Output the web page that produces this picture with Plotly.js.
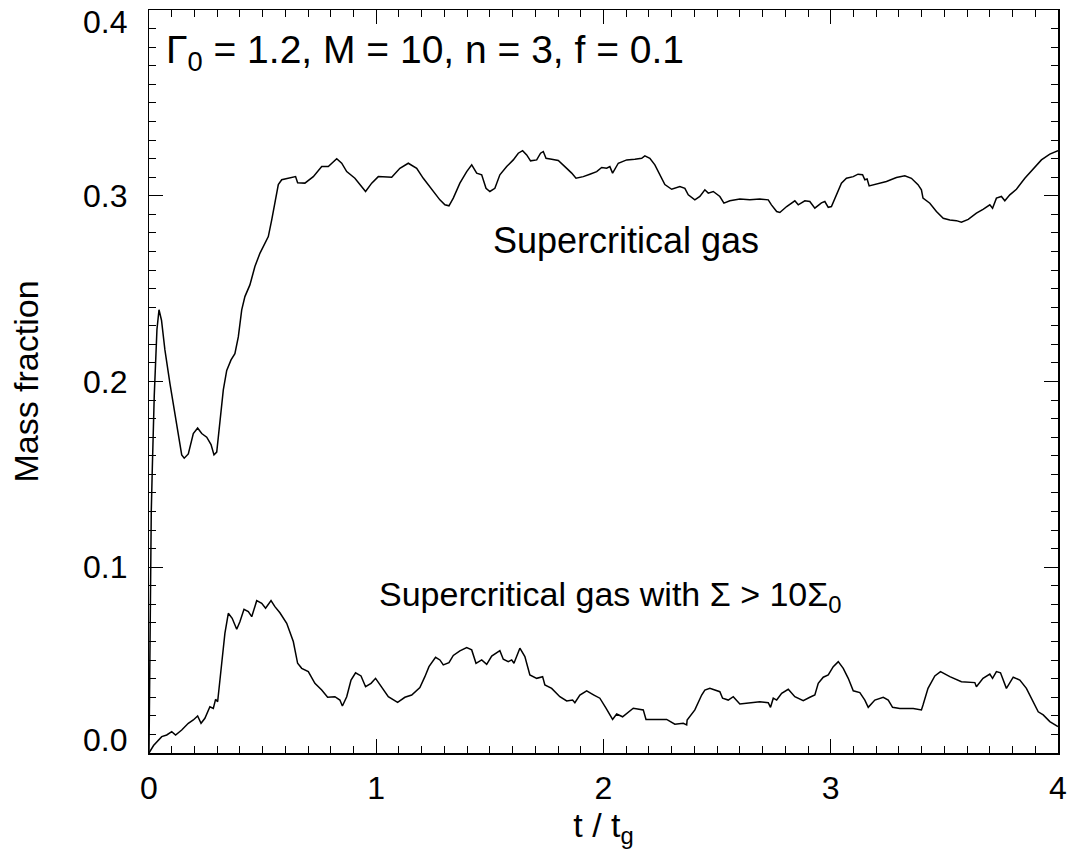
<!DOCTYPE html>
<html>
<head>
<meta charset="utf-8">
<script src="https://cdn.plot.ly/plotly-3.0.1.min.js"></script>
<style>html,body{margin:0;padding:0;background:#fff;}#chart{width:1076px;height:861px;}</style>
</head>
<body>
<div id="chart"></div>
<script>
const tUpper = [0, 0.005, 0.01, 0.0147, 0.023, 0.035, 0.044, 0.055, 0.070, 0.092,
0.114, 0.129, 0.144, 0.155, 0.173, 0.195, 0.214, 0.232, 0.254, 0.273,
0.286, 0.298, 0.312, 0.327, 0.342, 0.361, 0.378, 0.393, 0.408, 0.422,
0.444, 0.466, 0.488, 0.510, 0.525, 0.540, 0.554, 0.569, 0.584, 0.613,
0.645, 0.654, 0.686, 0.723, 0.760, 0.789, 0.826, 0.848, 0.870, 0.906,
0.953, 0.980, 1.009, 1.068, 1.104, 1.141, 1.178, 1.207, 1.244, 1.280,
1.302, 1.320, 1.339, 1.368, 1.398, 1.420, 1.442, 1.464, 1.483, 1.500,
1.522, 1.544, 1.574, 1.603, 1.625, 1.644, 1.662, 1.679, 1.706, 1.723,
1.735, 1.747, 1.772, 1.801, 1.830, 1.860, 1.879, 1.911, 1.940, 1.970,
1.992, 2.014, 2.028, 2.040, 2.065, 2.102, 2.138, 2.168, 2.182, 2.204,
2.226, 2.248, 2.270, 2.300, 2.336, 2.358, 2.373, 2.402, 2.424, 2.446,
2.461, 2.483, 2.512, 2.530, 2.556, 2.600, 2.644, 2.688, 2.725, 2.739,
2.762, 2.776, 2.806, 2.842, 2.857, 2.886, 2.908, 2.930, 2.959, 2.974,
2.989, 3.003, 3.025, 3.047, 3.069, 3.099, 3.120, 3.140, 3.150, 3.160,
3.169, 3.201, 3.245, 3.289, 3.326, 3.355, 3.384, 3.399, 3.406, 3.436,
3.465, 3.495, 3.524, 3.553, 3.575, 3.605, 3.641, 3.670, 3.700, 3.712,
3.729, 3.751, 3.766, 3.788, 3.817, 3.854, 3.890, 3.927, 3.964, 4.0];

const supercritical = [0, 0.08, 0.13, 0.154, 0.192, 0.228, 0.2386, 0.233, 0.217, 0.199,
0.183, 0.170, 0.1605, 0.1587, 0.161, 0.172, 0.175, 0.172, 0.170, 0.166,
0.1605, 0.162, 0.1775, 0.1955, 0.206, 0.2116, 0.215, 0.224, 0.2386, 0.2457,
0.252, 0.2619, 0.269, 0.2745, 0.278, 0.287, 0.296, 0.306, 0.3086, 0.3094,
0.3103, 0.307, 0.3068, 0.3103, 0.3157, 0.3157, 0.3199, 0.3175, 0.313, 0.3094,
0.3023, 0.3068, 0.3103, 0.310, 0.3148, 0.3175, 0.3148, 0.3094, 0.3032, 0.2978,
0.2951, 0.2946, 0.2987, 0.3068, 0.313, 0.3166, 0.3122, 0.3113, 0.304, 0.3023,
0.304, 0.3113, 0.3157, 0.3193, 0.3229, 0.3243, 0.322, 0.3188, 0.3193, 0.3229,
0.3238, 0.3202, 0.3197, 0.319, 0.3157, 0.3122, 0.3094, 0.3103, 0.3116, 0.313,
0.3152, 0.3148, 0.3157, 0.3122, 0.3175, 0.3193, 0.3197, 0.3202, 0.3215, 0.3202,
0.3166, 0.3113, 0.306, 0.3035, 0.305, 0.304, 0.3005, 0.2978, 0.2996, 0.3032,
0.3014, 0.3023, 0.2996, 0.296, 0.2973, 0.2982, 0.2978, 0.2982, 0.2978, 0.2951,
0.2915, 0.291, 0.2942, 0.2973, 0.2951, 0.2973, 0.2969, 0.2933, 0.2962, 0.2969,
0.2938, 0.2942, 0.3005, 0.3068, 0.3094, 0.3103, 0.3116, 0.3113, 0.3086, 0.309,
0.3053, 0.3062, 0.3077, 0.3098, 0.3107, 0.3094, 0.306, 0.3032, 0.2987, 0.296,
0.2915, 0.2879, 0.287, 0.2866, 0.2858, 0.2873, 0.2906, 0.2927, 0.2951, 0.2933,
0.2987, 0.2996, 0.2973, 0.3005, 0.3035, 0.3094, 0.3143, 0.3193, 0.3224, 0.3243];

const tLower = [0, 0.02, 0.056, 0.078, 0.100, 0.117, 0.144, 0.173, 0.195, 0.214,
0.229, 0.246, 0.268, 0.283, 0.293, 0.302, 0.320, 0.334, 0.349, 0.366,
0.386, 0.400, 0.418, 0.437, 0.452, 0.474, 0.496, 0.513, 0.537, 0.554,
0.576, 0.606, 0.635, 0.654, 0.672, 0.701, 0.730, 0.760, 0.786, 0.818,
0.840, 0.851, 0.870, 0.889, 0.909, 0.933, 0.953, 0.977, 0.997, 1.024,
1.053, 1.094, 1.126, 1.156, 1.192, 1.214, 1.232, 1.261, 1.280, 1.295,
1.320, 1.339, 1.368, 1.398, 1.420, 1.439, 1.464, 1.486, 1.508, 1.544,
1.559, 1.581, 1.596, 1.606, 1.632, 1.654, 1.676, 1.706, 1.732, 1.742,
1.772, 1.808, 1.838, 1.864, 1.874, 1.896, 1.926, 1.958, 1.984, 2.011,
2.040, 2.058, 2.084, 2.131, 2.175, 2.187, 2.234, 2.278, 2.314, 2.351,
2.366, 2.368, 2.402, 2.432, 2.446, 2.468, 2.512, 2.524, 2.549, 2.571,
2.600, 2.644, 2.688, 2.725, 2.735, 2.747, 2.762, 2.784, 2.813, 2.842,
2.879, 2.908, 2.930, 2.945, 2.967, 2.989, 3.011, 3.033, 3.055, 3.077,
3.099, 3.128, 3.150, 3.165, 3.194, 3.231, 3.253, 3.272, 3.304, 3.363,
3.399, 3.406, 3.428, 3.458, 3.483, 3.524, 3.575, 3.634, 3.641, 3.670,
3.700, 3.712, 3.729, 3.747, 3.759, 3.773, 3.803, 3.832, 3.861, 3.888,
3.913, 3.935, 3.964, 4.0];

const denseSupercritical = [0, 0.004, 0.0088, 0.0097, 0.0115, 0.0097, 0.0124, 0.016, 0.0178, 0.0199,
0.016, 0.0187, 0.0249, 0.024, 0.0289, 0.0276, 0.0483, 0.0644, 0.0752, 0.0725,
0.0666, 0.0707, 0.0774, 0.0761, 0.0734, 0.082, 0.0806, 0.0779, 0.082, 0.0788,
0.0755, 0.0698, 0.06, 0.0483, 0.0456, 0.0438, 0.0375, 0.0339, 0.03, 0.0303,
0.0285, 0.0253, 0.0303, 0.0393, 0.0432, 0.0415, 0.0357, 0.0375, 0.0402, 0.0357,
0.0303, 0.0273, 0.03, 0.0312, 0.0352, 0.0411, 0.0465, 0.0515, 0.0501, 0.0474,
0.0486, 0.0525, 0.055, 0.0567, 0.0555, 0.0483, 0.0501, 0.0477, 0.0522, 0.0551,
0.0505, 0.0492, 0.0501, 0.0483, 0.0564, 0.0519, 0.042, 0.0402, 0.0411, 0.0366,
0.0348, 0.0303, 0.028, 0.0285, 0.0271, 0.0312, 0.0334, 0.0312, 0.0295, 0.0241,
0.0181, 0.021, 0.0195, 0.0241, 0.0232, 0.0181, 0.0183, 0.0181, 0.0155, 0.016,
0.0151, 0.0178, 0.0232, 0.0312, 0.0339, 0.0348, 0.033, 0.0295, 0.0285, 0.0303,
0.0264, 0.0268, 0.0276, 0.0271, 0.0246, 0.0295, 0.0285, 0.0321, 0.0343, 0.0303,
0.0282, 0.03, 0.0312, 0.0375, 0.0408, 0.042, 0.0465, 0.0492, 0.0456, 0.0402,
0.0335, 0.0325, 0.0285, 0.0246, 0.0285, 0.03, 0.0285, 0.0246, 0.024, 0.024,
0.0232, 0.0258, 0.0348, 0.0415, 0.0438, 0.0411, 0.0384, 0.0379, 0.0357, 0.0402,
0.0425, 0.0402, 0.0438, 0.0432, 0.0393, 0.0348, 0.0408, 0.0393, 0.0348, 0.0285,
0.0222, 0.0205, 0.0169, 0.0142];

const xTicks = [0, 1, 2, 3, 4];
const yTicks = [0.0, 0.1, 0.2, 0.3, 0.4];
const yTickText = ["0.0", "0.1", "0.2", "0.3", "0.4"];
const labelParams = "Γ<sub>0</sub> = 1.2, M = 10, n = 3, f = 0.1";
const labelUpper = "Supercritical gas";
const labelLower = "Supercritical gas with Σ > 10Σ<sub>0</sub>";

const FONT = "Liberation Sans, Arial, Helvetica, sans-serif";
const lineStyle = {color: "#000", width: 1.5};

const traces = [
  {x: tUpper, y: supercritical, type: "scatter", mode: "lines", line: lineStyle, hoverinfo: "skip"},
  {x: tLower, y: denseSupercritical, type: "scatter", mode: "lines", line: lineStyle, hoverinfo: "skip"}
];

const axisCommon = {
  showline: true, linecolor: "#000", linewidth: 1.5, mirror: "ticks",
  ticks: "inside", ticklen: 14, tickwidth: 1.2, tickcolor: "#000",
  showgrid: false, zeroline: false, tickfont: {family: FONT, size: 32, color: "#000"}
};

// y tick labels drawn as annotations so the end labels sit inside like the reference
const yLabelAnn = yTicks.map((v, i) => ({
  xref: "paper", yref: "y", x: 0, y: v, xanchor: "right", yanchor: "middle",
  xshift: -20, yshift: i === 0 ? 13 : (i === yTicks.length - 1 ? -12 : 0),
  text: yTickText[i], showarrow: false, font: {family: FONT, size: 32, color: "#000"}
}));

const layout = {
  width: 1076, height: 861,
  margin: {l: 149, r: 18, t: 10, b: 108},
  paper_bgcolor: "#fff", plot_bgcolor: "#fff",
  showlegend: false,
  font: {family: FONT, color: "#000"},
  xaxis: Object.assign({}, axisCommon, {
    range: [0, 4], tickvals: xTicks, ticktext: xTicks.map(String),
    ticklabelstandoff: 6,
    minor: {ticks: "inside", ticklen: 7, tickwidth: 1, tickcolor: "#000", dtick: 0.1, showgrid: false},
    title: {text: "t / t<sub>g</sub>", font: {family: FONT, size: 34, color: "#000"}, standoff: 4}
  }),
  yaxis: Object.assign({}, axisCommon, {
    range: [0, 0.4], tickvals: yTicks, showticklabels: false,
    minor: {ticks: "inside", ticklen: 7, tickwidth: 1, tickcolor: "#000", dtick: 0.01, showgrid: false},
    title: {text: "Mass fraction", font: {family: FONT, size: 34, color: "#000"}, standoff: 98}
  }),
  annotations: yLabelAnn.concat([
    {xref: "paper", yref: "paper", x: 0.0165, y: 0.943, xanchor: "left", yanchor: "middle",
     text: labelParams, showarrow: false, font: {family: FONT, size: 39, color: "#000"}},
    {xref: "paper", yref: "paper", x: 0.525, y: 0.690, xanchor: "center", yanchor: "middle",
     text: labelUpper, showarrow: false, font: {family: FONT, size: 36, color: "#000"}},
    {xref: "paper", yref: "paper", x: 0.251, y: 0.211, xanchor: "left", yanchor: "middle",
     text: labelLower, showarrow: false, font: {family: FONT, size: 34, color: "#000"}}
  ])
};

Plotly.newPlot("chart", traces, layout, {staticPlot: true, displayModeBar: false});
</script>
</body>
</html>
